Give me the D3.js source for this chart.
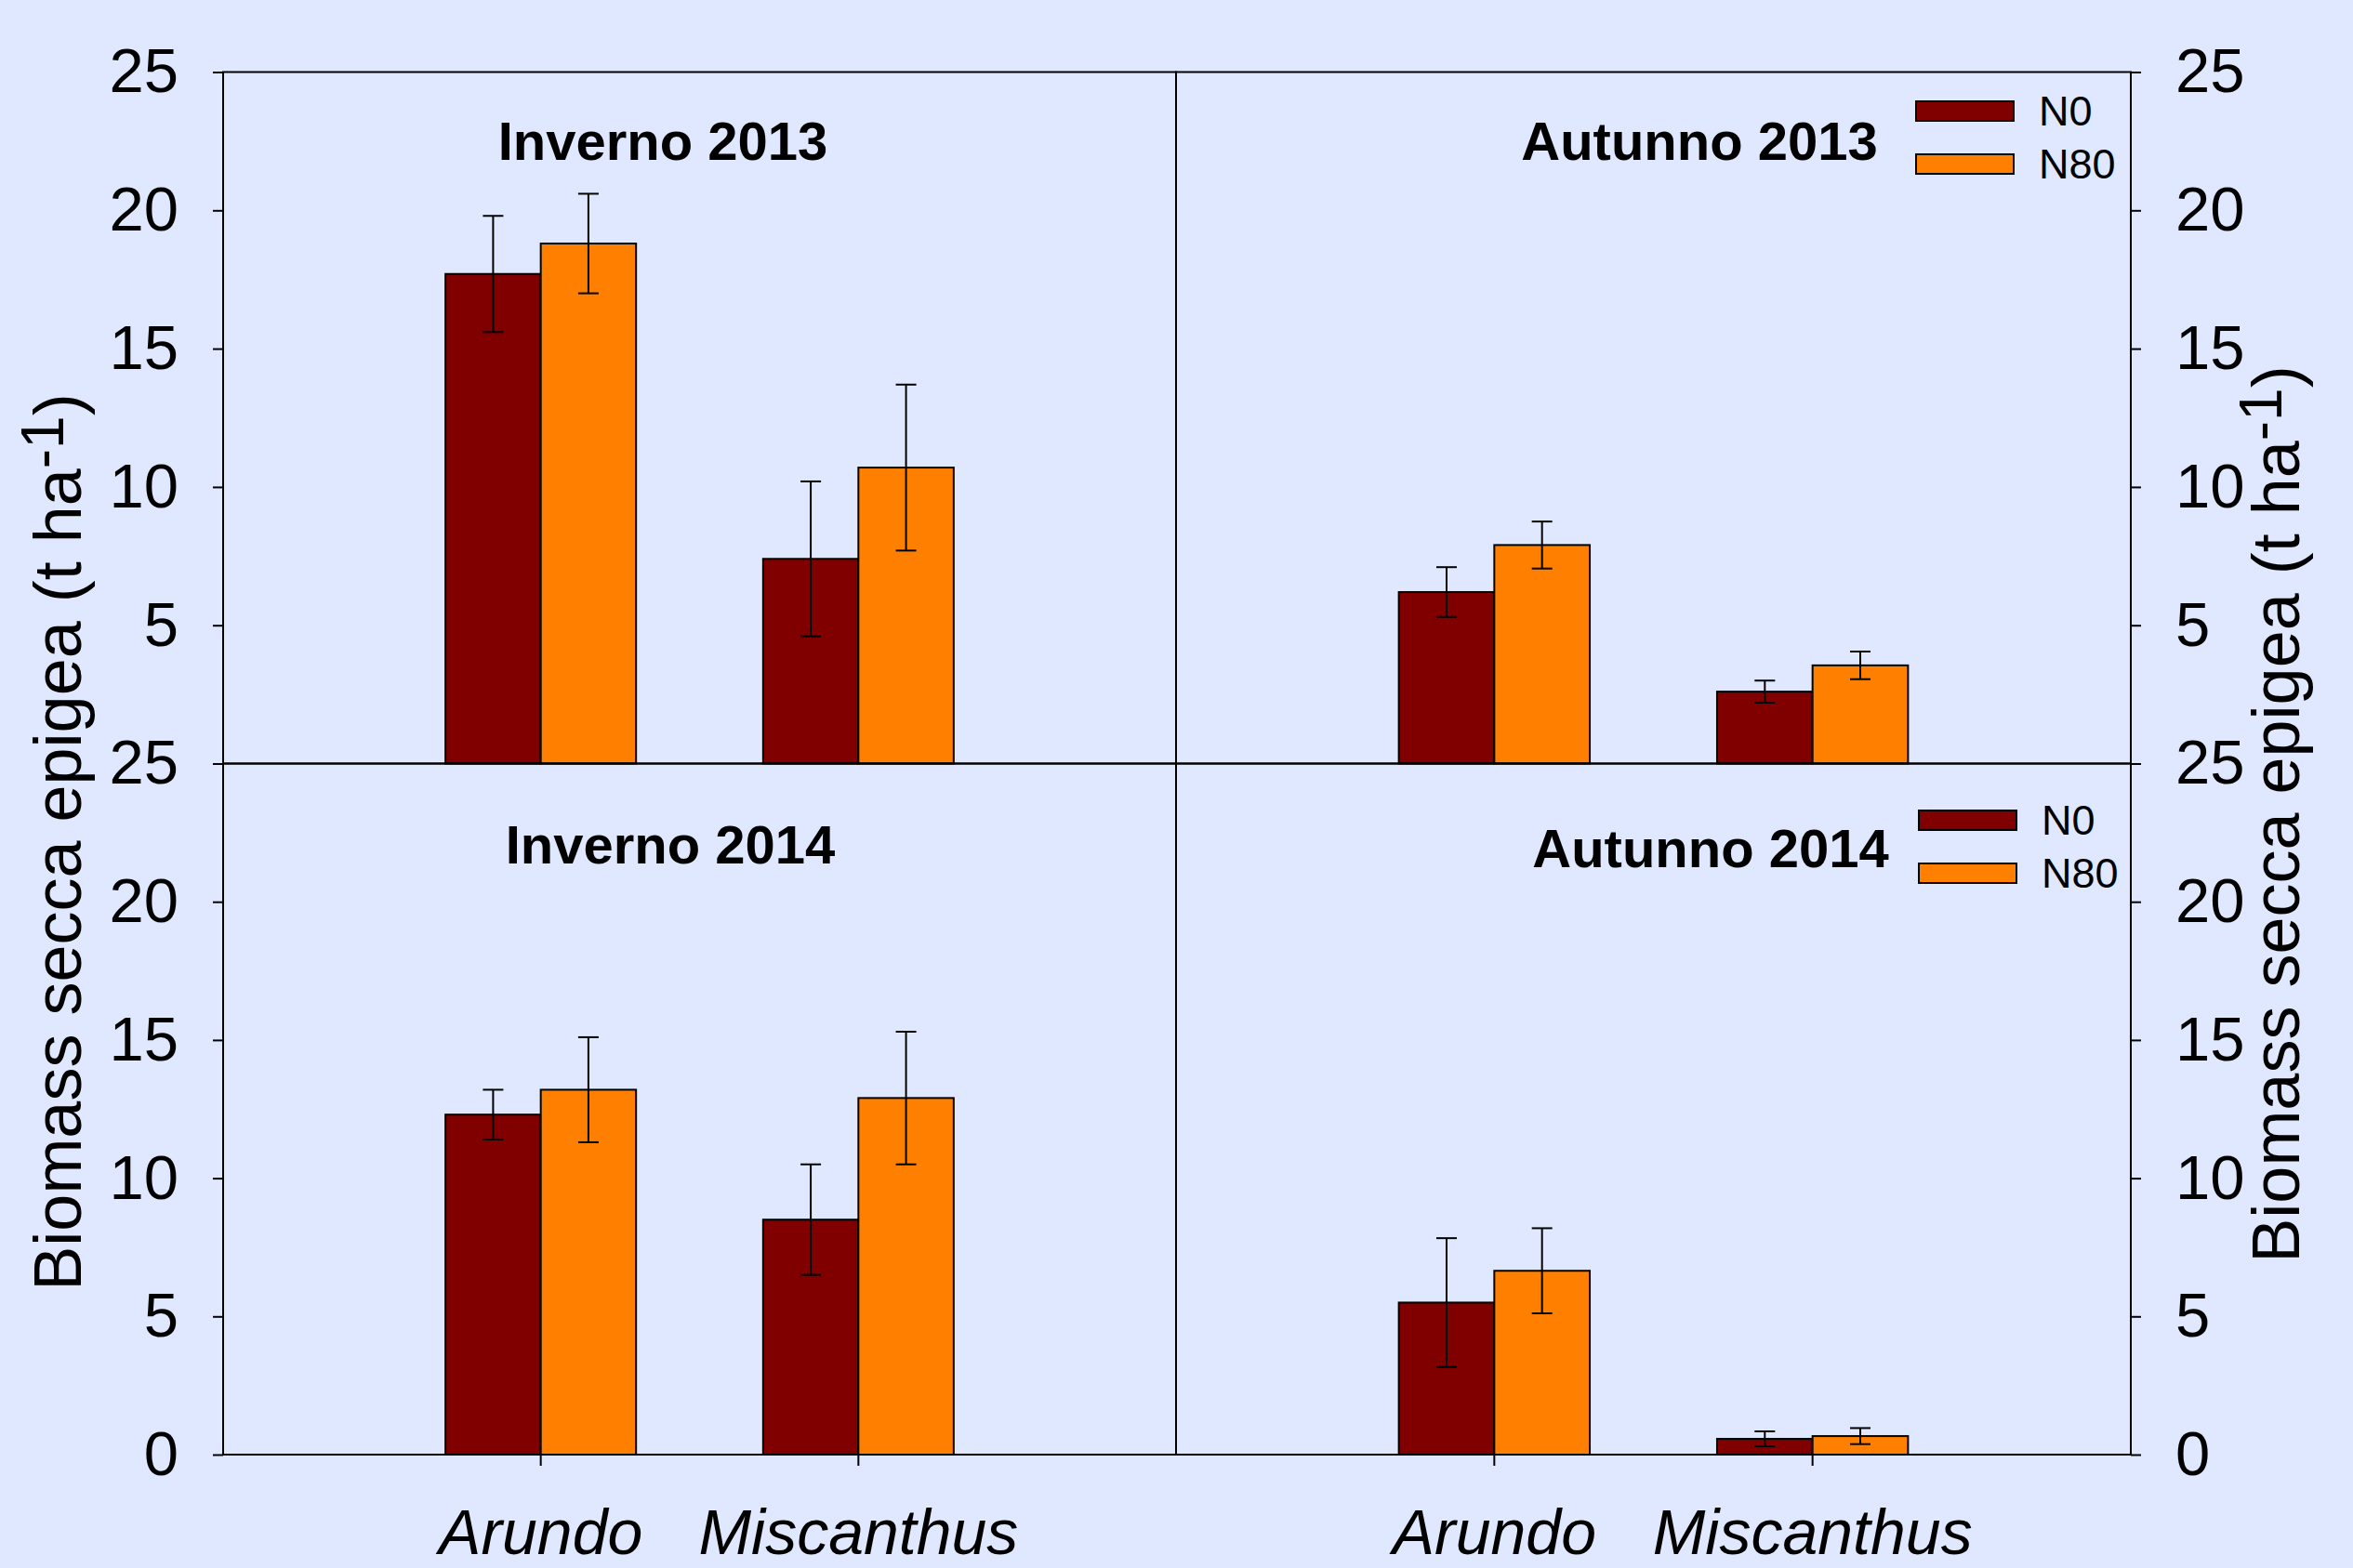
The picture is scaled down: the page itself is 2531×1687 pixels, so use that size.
<!DOCTYPE html>
<html>
<head>
<meta charset="utf-8">
<script src="https://cdn.jsdelivr.net/npm/d3@7"></script>
<style>
  body { margin: 0; background: #dfe8fe; }
  svg { display: block; }
</style>
</head>
<body>
<div id="chart"></div>
<script>
// data (t/ha), order = species
const species = ["Arundo", "Miscanthus"];
const treatments = ["N0", "N80"];
const titles = ["Inverno 2013", "Autunno 2013", "Inverno 2014", "Autunno 2014"];

const inv13N0 = [17.7, 7.4];
const inv13N0err = [2.1, 2.8];
const inv13N80 = [18.8, 10.7];
const inv13N80err = [1.8, 3.0];

const aut13N0 = [6.2, 2.6];
const aut13N0err = [0.9, 0.4];
const aut13N80 = [7.9, 3.55];
const aut13N80err = [0.85, 0.5];

const inv14N0 = [12.3, 8.5];
const inv14N0err = [0.9, 2.0];
const inv14N80 = [13.2, 12.9];
const inv14N80err = [1.9, 2.4];

const aut14N0 = [5.5, 0.57];
const aut14N0err = [2.33, 0.27];
const aut14N80 = [6.65, 0.67];
const aut14N80err = [1.54, 0.29];

const yTicksTop = [5, 10, 15, 20, 25];
const yTicksBottom = [0, 5, 10, 15, 20, 25];

const colors = { N0: "#800000", N80: "#ff8000" };
const font = "'Liberation Sans', Arial, sans-serif";

// layout
const W = 2531, H = 1687;
const xL = 240, xM = 1265, xR = 2292;
const yT = 77.5, yM = 821.5, yB = 1565;

const panels = [
  { title: titles[0], vals: [inv13N0, inv13N80], errs: [inv13N0err, inv13N80err], col: 0, row: 0, tx: 713, ty: 172, legend: null },
  { title: titles[1], vals: [aut13N0, aut13N80], errs: [aut13N0err, aut13N80err], col: 1, row: 0, tx: 1828, ty: 172, legend: { x: 2061, y: 109 } },
  { title: titles[2], vals: [inv14N0, inv14N80], errs: [inv14N0err, inv14N80err], col: 0, row: 1, tx: 721, ty: 929, legend: null },
  { title: titles[3], vals: [aut14N0, aut14N80], errs: [aut14N0err, aut14N80err], col: 1, row: 1, tx: 1840, ty: 933, legend: { x: 2064, y: 872 } }
];

var svg = d3.select("#chart")
  .append("svg")
  .attr("width", W)
  .attr("height", H);

svg.append("rect")
  .attr("width", W)
  .attr("height", H)
  .attr("fill", "#dfe8fe");

panels.forEach(function (p) {
  const x0 = p.col ? xM : xL, x1 = p.col ? xR : xM;
  const y0 = p.row ? yM : yT, y1 = p.row ? yB : yM;
  const w = x1 - x0;

  const x = d3.scaleBand().domain(species).range([x0 + w / 6, x1 - w / 6]);
  const xs = d3.scaleBand().domain(treatments).range([0, x.bandwidth() * 0.6]);
  const y = d3.scaleLinear().domain([0, 25]).range([y1, y0]);

  const g = svg.append("g");

  // bars + error bars
  treatments.forEach(function (t, ti) {
    const rows = species.map(function (s, si) {
      return { s: s, v: p.vals[ti][si], e: p.errs[ti][si] };
    });
    const bx = function (d) { return x(d.s) + x.bandwidth() * 0.2 + xs(t); };

    g.selectAll(null)
      .data(rows)
      .join("rect")
      .attr("x", bx)
      .attr("y", function (d) { return y(d.v); })
      .attr("width", xs.bandwidth())
      .attr("height", function (d) { return y(0) - y(d.v); })
      .attr("fill", colors[t])
      .attr("stroke", "#000")
      .attr("stroke-width", 2);

    const cx = function (d) { return bx(d) + xs.bandwidth() / 2; };
    const eb = g.selectAll(null).data(rows).join("g")
      .attr("stroke", "#000")
      .attr("stroke-width", 2);
    eb.append("line")
      .attr("x1", cx).attr("x2", cx)
      .attr("y1", function (d) { return y(d.v + d.e); })
      .attr("y2", function (d) { return y(d.v - d.e); });
    eb.append("line")
      .attr("x1", function (d) { return cx(d) - 11; })
      .attr("x2", function (d) { return cx(d) + 11; })
      .attr("y1", function (d) { return y(d.v + d.e); })
      .attr("y2", function (d) { return y(d.v + d.e); });
    eb.append("line")
      .attr("x1", function (d) { return cx(d) - 11; })
      .attr("x2", function (d) { return cx(d) + 11; })
      .attr("y1", function (d) { return y(d.v - d.e); })
      .attr("y2", function (d) { return y(d.v - d.e); });
  });

  // frame
  g.append("rect")
    .attr("x", x0).attr("y", y0)
    .attr("width", w).attr("height", y1 - y0)
    .attr("fill", "none")
    .attr("stroke", "#000")
    .attr("stroke-width", 2);

  // y axis (left for col 0, right for col 1)
  const ax = (p.col ? d3.axisRight(y) : d3.axisLeft(y))
    .tickValues(p.row ? yTicksBottom : yTicksTop)
    .tickSize(11)
    .tickPadding(37)
    .tickSizeOuter(0);
  const ag = svg.append("g")
    .attr("transform", "translate(" + (p.col ? x1 : x0) + ",0)")
    .call(ax);
  ag.select(".domain").remove();
  ag.selectAll("line").attr("stroke", "#000").attr("stroke-width", 2);
  ag.selectAll("text")
    .attr("font-family", font)
    .attr("font-size", 67)
    .attr("fill", "#000");

  // x axis only under bottom row
  if (p.row) {
    const xg = svg.append("g")
      .attr("transform", "translate(0," + y1 + ")")
      .call(d3.axisBottom(x).tickSize(12).tickPadding(47).tickSizeOuter(0));
    xg.select(".domain").remove();
    xg.selectAll("line").attr("stroke", "#000").attr("stroke-width", 2);
    xg.selectAll("text")
      .attr("font-family", font)
      .attr("font-size", 68)
      .attr("font-style", "italic")
      .attr("fill", "#000");
  }

  // panel title
  svg.append("text")
    .attr("x", p.tx)
    .attr("y", p.ty)
    .attr("text-anchor", "middle")
    .attr("font-family", font)
    .attr("font-size", 58)
    .attr("font-weight", "bold")
    .text(p.title);

  // legend
  if (p.legend) {
    treatments.forEach(function (t, i) {
      const ly = p.legend.y + i * 57;
      svg.append("rect")
        .attr("x", p.legend.x)
        .attr("y", ly)
        .attr("width", 105)
        .attr("height", 21)
        .attr("fill", colors[t])
        .attr("stroke", "#000")
        .attr("stroke-width", 2);
      svg.append("text")
        .attr("x", p.legend.x + 132)
        .attr("y", ly + 26)
        .attr("font-family", font)
        .attr("font-size", 45)
        .text(t);
    });
  }
});

// y titles
function yTitle(tx, ty) {
  const t = svg.append("text")
    .attr("transform", "translate(" + tx + "," + ty + ") rotate(-90)")
    .attr("text-anchor", "middle")
    .attr("font-family", font)
    .attr("font-size", 72);
  t.append("tspan").text("Biomass secca epigea (t ha");
  t.append("tspan").attr("dy", -19).attr("font-size", 64).text("-1");
  t.append("tspan").attr("dy", 19).text(")");
}
yTitle(87, 906);
yTitle(2473, 876);
</script>
</body>
</html>
